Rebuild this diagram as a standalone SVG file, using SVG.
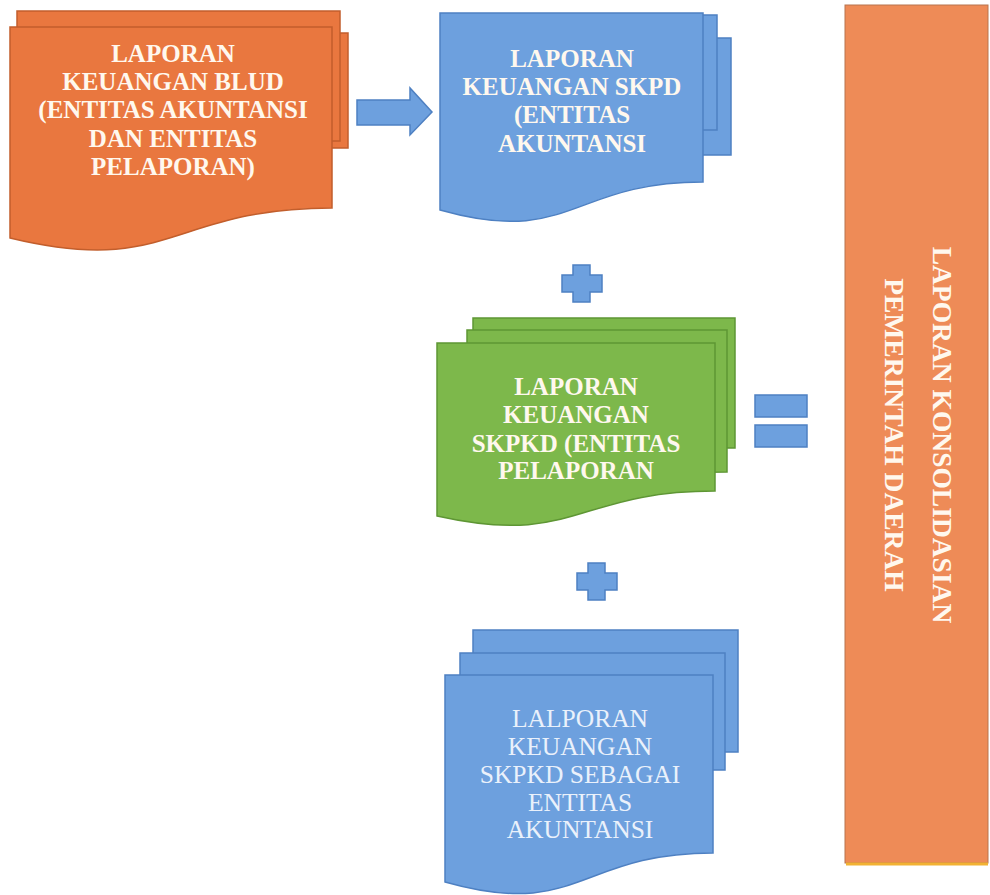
<svg xmlns="http://www.w3.org/2000/svg" width="990" height="895" viewBox="0 0 990 895">
<style>
.or{fill:#E9773F;stroke:#C25E2C;stroke-width:1.5}
.bl{fill:#6DA0DE;stroke:#4E80C2;stroke-width:1.5}
.gr{fill:#7DB84B;stroke:#5E9634;stroke-width:1.5}
.t{font-family:"Liberation Serif",serif;font-weight:bold;font-size:25px;fill:#FFF8EE;text-anchor:middle}
.tl{font-family:"Liberation Serif",serif;font-size:25.5px;fill:#EAF1FB;text-anchor:middle}
.tv{font-family:"Liberation Serif",serif;font-weight:bold;font-size:27.5px;fill:#FFF8EE;text-anchor:middle}
</style>
<rect width="990" height="895" fill="#FFFFFF"/>
<g id="blud">
<rect class="or" x="25" y="33" width="323" height="115"/>
<rect class="or" x="17" y="11" width="323" height="130"/>
<path class="or" d="M10,27 H332 V208 C171,208 171,277 10,238 Z"/>
<text class="t"><tspan x="173" y="62">LAPORAN</tspan><tspan x="173" y="90">KEUANGAN BLUD</tspan><tspan x="173" y="118">(ENTITAS AKUNTANSI</tspan><tspan x="173" y="147">DAN ENTITAS</tspan><tspan x="173" y="175">PELAPORAN)</tspan></text>
</g>
<g id="skpd">
<rect class="bl" x="455" y="38" width="276" height="117"/>
<rect class="bl" x="447" y="15" width="270" height="115"/>
<path class="bl" d="M440,13 H703 V182 C571,182 571,247 440,210 Z"/>
<text class="t"><tspan x="572" y="67">LAPORAN</tspan><tspan x="572" y="95">KEUANGAN SKPD</tspan><tspan x="572" y="123">(ENTITAS</tspan><tspan x="572" y="152">AKUNTANSI</tspan></text>
</g>
<g id="skpkd-pelaporan">
<rect class="gr" x="473" y="318" width="262" height="130"/>
<path class="gr" d="M467,330 H727 V472 C600,472 600,500 467,490 Z"/>
<path class="gr" d="M437,343 H715 V491 C576,491 576,547 437,516 Z"/>
<text class="t"><tspan x="576" y="395">LAPORAN</tspan><tspan x="576" y="423">KEUANGAN</tspan><tspan x="576" y="452">SKPKD (ENTITAS</tspan><tspan x="576" y="479">PELAPORAN</tspan></text>
</g>
<g id="skpkd-akuntansi">
<rect class="bl" x="473" y="630" width="265" height="122"/>
<rect class="bl" x="460" y="653" width="265" height="117"/>
<path class="bl" d="M445,675 H713 V853 C579,853 579,920 445,882 Z"/>
<text class="tl"><tspan x="580" y="727">LALPORAN</tspan><tspan x="580" y="755">KEUANGAN</tspan><tspan x="580" y="783">SKPKD SEBAGAI</tspan><tspan x="580" y="811">ENTITAS</tspan><tspan x="580" y="838">AKUNTANSI</tspan></text>
</g>
<g id="konsolidasi">
<rect x="845" y="5" width="143" height="858" fill="#EE8B57" stroke="#B8744E" stroke-width="1"/>
<line x1="846" y1="864" x2="988" y2="864" stroke="#F2B233" stroke-width="3"/>
<text class="tv" transform="translate(933,435) rotate(90)">LAPORAN KONSOLIDASIAN</text>
<text class="tv" transform="translate(885,435) rotate(90)">PEMERINTAH DAERAH</text>
</g>
<g id="connectors">
<path class="bl" d="M357,100 H410 V88 L432,112 L410,135 V125 H357 Z"/>
<path class="bl" d="M573,265 H590 V275 H602 V292 H590 V302 H573 V292 H562 V275 H573 Z"/>
<path class="bl" d="M588,563 H605 V573 H617 V590 H605 V600 H588 V590 H577 V573 H588 Z"/>
<rect class="bl" x="755" y="395" width="52" height="22"/>
<rect class="bl" x="755" y="425" width="52" height="22"/>
</g>
</svg>
